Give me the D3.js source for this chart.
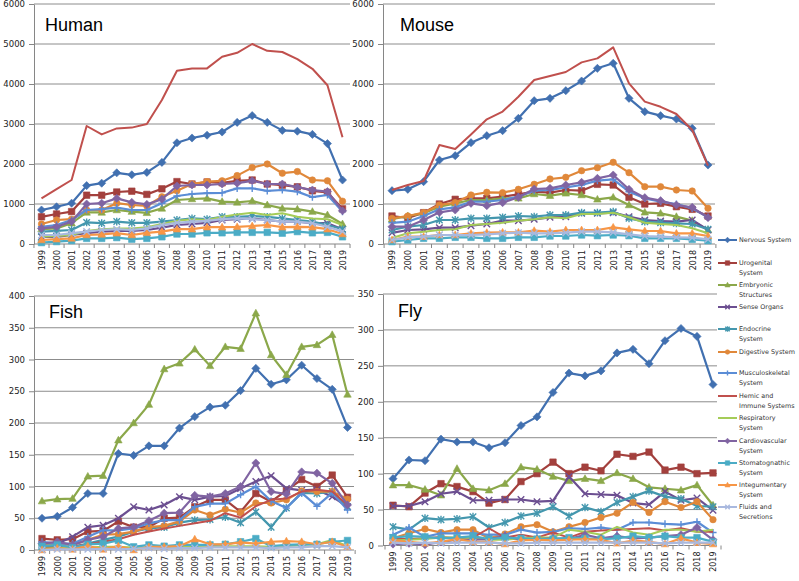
<!DOCTYPE html>
<html><head><meta charset="utf-8">
<script src="https://cdn.jsdelivr.net/npm/d3@7"></script>
<style>
html,body{margin:0;padding:0;background:#fff;}
svg{display:block;}
</style></head>
<body>
<svg id="chart" width="799" height="581"></svg>
<script>
// ---------- DATA ----------
const years = ["1999","2000","2001","2002","2003","2004","2005","2006","2007","2008","2009","2010","2011","2012","2013","2014","2015","2016","2017","2018","2019"];

const seriesNames = ["Nervous System","Urogenital System","Embryonic Structures","Sense Organs","Endocrine System","Digestive System","Musculoskeletal System","Hemic and Immune Systems","Respiratory System","Cardiovascular System","Stomatognathic System","Integumentary System","Fluids and Secretions"];
const legendLines = [["Nervous System"],["Urogenital","System"],["Embryonic","Structures"],["Sense Organs"],["Endocrine","System"],["Digestive System"],["Musculoskeletal","System"],["Hemic and","Immune Systems"],["Respiratory","System"],["Cardiovascular","System"],["Stomatognathic","System"],["Integumentary","System"],["Fluids and","Secretions"]];

const humanTicks = [0,1000,2000,3000,4000,5000,6000];
const mouseTicks = [0,1000,2000,3000,4000,5000,6000];
const fishTicks = [0,50,100,150,200,250,300,350,400];
const flyTicks = [0,50,100,150,200,250,300,350];

// rows follow seriesNames order
const humanValues = [
  [850,930,1020,1460,1520,1780,1730,1790,2040,2530,2650,2720,2800,3040,3210,3040,2840,2820,2740,2510,1600],
  [680,750,810,1220,1220,1300,1320,1240,1380,1560,1500,1550,1530,1580,1600,1500,1470,1430,1330,1290,880],
  [370,390,520,790,790,850,810,780,890,1100,1125,1140,1060,1040,1075,975,890,870,810,725,500],
  [180,180,225,270,310,325,330,350,410,475,500,530,600,620,640,600,560,560,520,520,370],
  [310,330,350,540,520,560,530,530,560,600,640,620,680,680,700,680,640,600,560,475,370],
  [500,600,620,850,850,1020,975,950,1180,1330,1500,1560,1580,1710,1910,2000,1770,1810,1600,1580,1070],
  [430,475,600,850,870,910,850,850,1020,1200,1250,1270,1280,1390,1390,1330,1350,1310,1170,1225,810],
  [1140,1370,1600,2950,2740,2890,2910,3000,3600,4330,4390,4390,4680,4780,5000,4830,4800,4620,4380,3970,2670],
  [180,200,225,325,370,390,390,420,500,580,620,600,680,740,780,725,770,680,640,620,475],
  [390,430,560,1000,1020,1140,1040,990,1120,1450,1475,1475,1500,1520,1580,1500,1500,1420,1350,1310,830],
  [35,60,85,140,140,160,120,140,180,250,250,280,280,290,290,290,270,310,280,290,180],
  [100,120,140,225,240,270,225,280,310,370,370,420,420,430,450,475,420,430,420,370,250],
  [225,225,270,310,350,370,350,390,475,530,560,580,620,640,620,600,560,560,520,430,310]
];

const mouseValues = [
  [1333,1367,1558,2100,2208,2533,2708,2833,3142,3583,3642,3833,4075,4392,4517,3642,3308,3208,3125,2892,1975],
  [700,650,783,1000,1117,1142,1142,1183,1242,1308,1283,1350,1333,1492,1475,1167,1000,1017,933,867,700],
  [620,700,767,933,1017,1100,1100,1142,1142,1250,1208,1267,1225,1117,1167,975,792,767,683,583,350],
  [280,350,367,408,408,458,500,583,583,617,667,683,767,767,783,683,600,575,558,600,350],
  [350,433,475,600,600,642,642,667,700,683,725,725,783,783,808,642,558,533,517,500,367],
  [640,700,783,975,1033,1225,1292,1283,1367,1492,1625,1667,1833,1908,2042,1783,1433,1433,1350,1325,892],
  [530,558,700,867,917,1058,1058,1100,1183,1333,1350,1417,1475,1583,1617,1308,1142,1058,1000,892,667],
  [1350,1475,1575,2475,2375,2740,3117,3310,3680,4100,4200,4300,4540,4640,4917,4017,3560,3430,3250,2850,1960],
  [150,267,308,350,367,475,500,533,583,617,667,642,750,750,783,667,533,500,475,392,267],
  [433,433,600,792,850,1017,958,1033,1167,1375,1392,1475,1542,1642,1725,1367,1158,1083,975,917,658],
  [60,100,142,142,167,167,142,142,167,167,200,200,225,208,225,208,142,142,142,117,83],
  [100,183,183,225,225,267,283,292,292,333,308,350,350,350,417,367,325,325,267,267,200],
  [100,167,183,225,225,225,242,267,283,267,267,283,308,308,292,242,200,183,167,158,117]
];

const fishValues = [
  [50,53,67,89,89,152,149,164,164,192,210,225,228,251,286,261,268,291,270,253,193],
  [18,16,17,29,30,45,36,36,50,51,68,79,79,60,89,76,94,111,100,118,83],
  [77,80,81,116,117,173,200,229,285,294,316,290,320,317,373,307,276,320,323,339,245],
  [8,10,21,36,39,50,68,63,71,84,79,84,85,97,108,117,97,94,95,84,68],
  [5,6,5,10,16,21,29,34,36,43,47,48,52,43,60,36,66,90,89,92,68],
  [8,10,8,16,24,25,29,36,38,45,63,55,64,59,74,74,79,93,92,92,80],
  [13,10,10,21,31,31,34,42,47,47,68,73,73,87,100,77,66,90,69,90,63],
  [3,4,5,9,13,17,24,29,34,38,42,46,58,51,69,79,81,92,95,92,71],
  [2,3,3,4,5,5,4,4,4,5,5,6,6,6,6,5,6,8,9,16,6],
  [10,13,8,16,21,34,36,46,58,59,86,84,89,100,137,92,88,123,121,105,71],
  [6,8,4,9,10,15,5,8,6,8,8,8,9,13,18,6,8,9,9,13,15],
  [0,3,1,6,1,6,0,5,5,6,17,9,9,12,10,13,14,13,9,13,5],
  [0,1,1,1,2,1,2,3,2,3,3,4,4,4,4,3,4,4,6,6,4]
];

const flyValues = [
  [93,119,118,148,144,144,136,143,167,179,213,240,236,243,268,273,253,285,302,291,224],
  [56,54,73,86,82,75,59,64,89,100,116,100,109,104,127,124,130,105,109,100,101],
  [84,84,78,70,107,79,77,86,109,106,96,90,93,90,101,93,81,79,77,84,56],
  [55,55,61,72,75,63,63,64,64,61,62,96,72,71,70,59,57,75,63,66,49],
  [26,22,38,36,37,40,25,32,41,45,54,41,53,47,60,68,76,68,65,55,54],
  [10,17,23,18,22,22,10,16,26,29,19,26,32,39,45,60,46,61,53,61,36],
  [15,25,12,17,17,17,15,15,22,18,19,24,23,25,22,32,32,30,29,33,18],
  [9,9,10,12,10,11,24,11,15,11,18,11,19,21,22,23,24,21,24,19,19],
  [7,8,9,11,11,10,8,8,10,11,11,22,19,15,26,18,15,22,22,19,22],
  [2,3,1,5,8,8,9,13,8,9,10,9,15,10,13,10,11,13,15,25,8],
  [11,13,12,10,11,13,9,11,10,9,9,11,10,9,10,13,11,13,11,11,5],
  [7,5,3,5,9,5,5,2,7,8,7,8,9,8,3,7,5,2,10,4,2],
  [4,3,4,3,4,4,4,3,3,4,4,4,4,4,4,4,4,3,4,4,4]
];

// ---------- STYLE ----------
const colors = ["#4170B0","#A3403D","#8BA84A","#6C4F91","#4497AE","#E0883A","#5B8DD6","#C0504D","#A5CC58","#8064A2","#4BACC6","#F79646","#A9B9DF"];
const markers = ["diamond","square","triangle","x","star","circle","plus",null,null,"diamond","square","triangle","x"];

const svg = d3.select("#chart");
const AX = "DejaVu Sans, Verdana, sans-serif";

function markerPath(type, s) {
  const h = s/2;
  switch(type) {
    case "diamond": return `M0,${-h*1.25}L${h*1.25},0L0,${h*1.25}L${-h*1.25},0Z`;
    case "square": return `M${-h},${-h}H${h}V${h}H${-h}Z`;
    case "triangle": return `M0,${-h*1.2}L${h*1.15},${h*0.85}L${-h*1.15},${h*0.85}Z`;
    case "x": return `M${-h},${-h}L${h},${h}M${-h},${h}L${h},${-h}`;
    case "star": return `M${-h},${-h}L${h},${h}M${-h},${h}L${h},${-h}M0,${-h*1.2}V${h*1.2}`;
    case "plus": return `M${-h*1.1},0H${h*1.1}M0,${-h*1.1}V${h*1.1}`;
    case "circle": return `M${-h},0A${h},${h} 0 1,0 ${h},0A${h},${h} 0 1,0 ${-h},0Z`;
  }
  return null;
}
function drawMarker(g, type, x, y, color, s) {
  const p = markerPath(type, s);
  if (!p) return;
  const stroked = (type==="x"||type==="star"||type==="plus");
  g.append("path").attr("d", p).attr("transform", `translate(${x},${y})`)
    .attr("fill", stroked ? "none" : color)
    .attr("stroke", color).attr("stroke-width", stroked ? 1.4 : 0.6);
}

function panel(cfg) {
  const g = svg.append("g");
  const x = d3.scalePoint().domain(years).range([cfg.x0, cfg.x1]);
  const y = d3.scaleLinear().domain([0, d3.max(cfg.ticks)]).range([cfg.bottom, cfg.top]);
  const step = x.step();

  // gridlines
  g.selectAll(".grid").data(cfg.ticks.filter(t => t > 0)).enter().append("line")
    .attr("x1", cfg.left).attr("x2", cfg.right)
    .attr("y1", d => y(d)).attr("y2", d => y(d))
    .attr("stroke", "#8c8c8c").attr("stroke-width", 1);

  // y axis
  const ya = g.append("g").attr("transform", `translate(${cfg.left},0)`)
    .call(d3.axisLeft(y).tickValues(cfg.ticks).tickFormat(d3.format("d")).tickSize(5).tickSizeOuter(0).tickPadding(cfg.ypad));
  ya.select(".domain").attr("stroke", "#868686");
  ya.selectAll(".tick line").attr("stroke", "#868686");
  ya.selectAll("text").attr("font-family", AX).attr("font-size", "8.5px").attr("fill", "#222");

  // x axis
  const xa = g.append("g").attr("transform", `translate(0,${cfg.bottom})`)
    .call(d3.axisBottom(x).tickSize(0).tickPadding(0));
  xa.select(".domain").remove();
  xa.selectAll("text").attr("transform", "rotate(-90)")
    .attr("x", -6).attr("y", 0).attr("dy", "0.35em")
    .style("text-anchor", "end")
    .attr("font-family", AX).attr("font-size", "8px").attr("fill", "#222");
  g.append("line").attr("x1", cfg.left).attr("x2", cfg.right)
    .attr("y1", cfg.bottom).attr("y2", cfg.bottom).attr("stroke", "#868686");
  const bounds = years.map(d => x(d) - step/2).concat([x(years[years.length-1]) + step/2]);
  g.selectAll(".xt").data(bounds).enter().append("line")
    .attr("x1", d => d).attr("x2", d => d)
    .attr("y1", cfg.bottom).attr("y2", cfg.bottom + 4)
    .attr("stroke", "#868686");

  // series
  const line = d3.line().x((d, i) => x(years[i])).y(d => y(d));
  cfg.values.forEach((vals, si) => {
    const sg = g.append("g");
    sg.append("path").datum(vals).attr("d", line)
      .attr("fill", "none").attr("stroke", colors[si])
      .attr("stroke-width", si === 7 || si === 8 ? 2 : 2.2)
      .attr("stroke-linejoin", "round");
    vals.forEach((v, i) => drawMarker(sg, markers[si], x(years[i]), y(v), colors[si], cfg.ms));
  });

  // title
  g.append("text").attr("x", cfg.tx).attr("y", cfg.ty).text(cfg.title)
    .attr("font-family", "Liberation Sans, Arial, sans-serif").attr("font-size", "18px").attr("fill", "#000");
}

panel({title:"Human", values:humanValues, ticks:humanTicks, left:34, right:350, top:4, bottom:244, x0:41.5, x1:342.5, tx:45, ty:31, ypad:4, ms:6.5});
panel({title:"Mouse", values:mouseValues, ticks:mouseTicks, left:383, right:715, top:4, bottom:244, x0:392, x1:708, tx:400, ty:31, ypad:4, ms:6.5});
panel({title:"Fish", values:fishValues, ticks:fishTicks, left:34, right:354, top:296, bottom:550, x0:42, x1:347.5, tx:49, ty:318, ypad:4, ms:6.5});
panel({title:"Fly", values:flyValues, ticks:flyTicks, left:383, right:717, top:294, bottom:545.5, x0:393, x1:713, tx:398, ty:317, ypad:4, ms:6.5});

// legend
const legendY = [240,263,285,307,329,352,373,396,418,441,463,485,507];
const lg = svg.append("g");
seriesNames.forEach((name, i) => {
  const yy = legendY[i];
  lg.append("line").attr("x1", 718).attr("x2", 737).attr("y1", yy).attr("y2", yy)
    .attr("stroke", colors[i]).attr("stroke-width", 2);
  drawMarker(lg, markers[i], 727.5, yy, colors[i], 4.5);
  legendLines[i].forEach((t, k) => {
    lg.append("text").attr("x", 739).attr("y", yy + k*10).attr("dy", "0.35em").text(t)
      .attr("font-family", AX).attr("font-size", "6.4px").attr("fill", "#333");
  });
});
</script>
</body></html>
